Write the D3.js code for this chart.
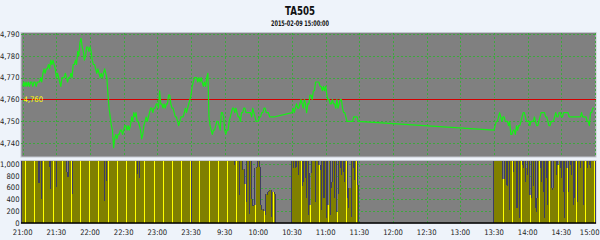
<!DOCTYPE html>
<html>
<head>
<meta charset="utf-8">
<script src="https://cdn.jsdelivr.net/npm/d3@7/dist/d3.min.js"></script>
<style>
  html, body { margin: 0; padding: 0; background: #eef3fa; }
  svg { display: block; }
  text { font-family: 'Liberation Sans Narrow', 'Arial Narrow', 'DejaVu Sans Condensed', sans-serif; }
</style>
</head>
<body>
<div id="chart"></div>
<script>
// TA505 intraday minute chart: price (top) and volume (bottom)

const TITLE = 'TA505';
const SUBTITLE = '2015-02-09 15:00:00';
const REF_PRICE = 4760;

// one slot = one minute; night 21:00-23:30, then day 9:00-15:00 with breaks kept
const tickLabels = ['21:00','21:30','22:00','22:30','23:00','23:30','9:30','10:00','10:30',
  '11:00','11:30','12:00','12:30','13:00','13:30','14:00','14:30','15:00'];
const tickSlots = [0,30,60,90,120,150,180,210,240,270,300,330,360,390,420,450,480,510];
const priceTicks = [4740, 4750, 4760, 4770, 4780, 4790];
const volTicks = [0, 200, 400, 600, 800, 1000];

// first minute slot of each session: 21:00, 9:00, 10:30, 13:30
const sessionStart = [0, 150, 240, 420];

const priceNight = [
  4766,4768,4766,4768,4766,4768,4766,4768,4768,4766,
  4768,4768,4766,4768,4768,4768,4770,4768,4772,4774,
  4772,4774,4774,4776,4774,4778,4776,4778,4776,4774,
  4770,4772,4770,4768,4766,4770,4770,4770,4772,4770,
  4768,4770,4770,4772,4770,4776,4776,4778,4776,4782,
  4780,4786,4788,4784,4782,4778,4780,4784,4784,4782,
  4784,4782,4778,4776,4776,4774,4772,4774,4772,4770,
  4772,4770,4772,4774,4772,4770,4762,4756,4752,4748,
  4746,4738,4742,4744,4742,4744,4744,4746,4746,4744,
  4746,4748,4748,4746,4748,4746,4748,4752,4750,4754,
  4752,4754,4750,4750,4748,4746,4742,4744,4748,4750,
  4752,4750,4752,4754,4756,4756,4754,4756,4756,4758,
  4758,4756,4764,4758,4758,4756,4758,4756,4758,4758,
  4762,4762,4758,4756,4756,4754,4752,4752,4750,4748,
  4750,4752,4752,4752,4754,4756,4754,4756,4758,4760
];
const priceDay1 = [
  4762,4766,4768,4770,4770,4770,4768,4770,4768,4770,
  4768,4766,4768,4766,4770,4772,4752,4748,4746,4744,
  4746,4746,4748,4750,4750,4748,4746,4754,4754,4752,
  4746,4744,4746,4746,4750,4752,4754,4756,4756,4754,
  4756,4754,4752,4752,4750,4754,4754,4756,4756,4754,
  4754,4754,4754,4754,4752,4756,4754,4752,4750,4750,
  4750,4752,4752,4754,4754,4756,4756,4754,4754,4754,
  4752,4752,4752,4752,4752
];
const priceDay2 = [
  4754,4756,4754,4756,4758,4756,4756,4758,4760,4758,
  4756,4760,4758,4754,4758,4758,4762,4762,4760,4764,
  4764,4768,4768,4768,4768,4766,4766,4764,4766,4764,
  4766,4762,4760,4760,4758,4758,4760,4758,4758,4756,
  4760,4756,4758,4760,4760,4756,4754,4754,4752,4750,
  4750,4750,4750,4750,4750,4752,4752,4752,4752,4750
];
const priceDay3 = [
  4746,4748,4750,4750,4752,4754,4752,4750,4752,4752,
  4750,4750,4750,4748,4750,4744,4744,4746,4746,4744,
  4748,4746,4748,4748,4750,4752,4754,4754,4752,4750,
  4750,4750,4748,4750,4750,4750,4752,4750,4748,4748,
  4750,4752,4754,4754,4754,4754,4752,4752,4750,4748,
  4748,4750,4750,4750,4752,4754,4752,4752,4754,4754,
  4752,4752,4754,4754,4754,4754,4754,4752,4752,4752,
  4752,4752,4752,4752,4752,4752,4752,4752,4754,4752,
  4752,4752,4752,4750,4750,4748,4754,4754,4756,4756
];

const volNight = [
  4820,2650,1980,2210,1760,1540,1890,1320,1450,1610,
  1280,1390,1170,1240,680,680,1310,400,1150,1420,
  1260,1180,1330,1190,950,580,1210,1360,1120,1240,
  610,1180,1290,1410,1150,1230,1320,1100,1190,860,
  780,780,1250,1170,500,1380,1560,1720,1940,2380,
  2610,3120,2870,1980,1760,1640,1820,1590,1470,1350,
  1420,1290,1510,1380,1260,1190,1310,1240,1170,1220,
  1350,1160,1280,370,1460,720,2240,3480,2960,2410,
  2850,3210,2170,1860,1640,1420,1530,1380,1290,1360,
  1240,1410,1180,1270,1330,1150,1210,1480,1390,1320,
  1260,1170,830,1240,760,1310,1580,1420,1290,1350,
  1240,1160,1280,1370,1190,1230,1140,1260,1310,1180,
  1220,1290,1540,1360,1240,1170,1280,1210,1150,1230,
  1380,1260,1190,1240,1160,1280,1310,1220,1270,1350,
  1240,1290,1180,1330,1260,1410,1380,1520,1640,1890
];
const volDay1 = [
  3860,2740,2380,2150,1960,1820,1740,1590,1480,1520,
  1390,1460,1310,1580,1720,2630,3150,2480,2210,1870,
  1640,1520,1430,1390,1280,1350,1460,1620,1380,1290,
  1740,1860,1520,1410,1370,1460,1530,1320,1240,980,
  1210,1160,1190,480,1130,1170,900,920,670,360,
  1120,1150,150,1180,400,280,290,300,940,960,
  1130,950,300,220,230,200,130,500,470,520,
  540,560,90,520,500
];
const volDay2 = [
  1480,930,1220,930,960,1170,820,1140,1190,620,
  700,1160,760,420,1130,130,300,850,1220,1180,
  1150,360,1240,1110,990,900,220,1120,420,420,
  1160,75,300,1130,130,590,700,1110,420,1140,
  190,500,1150,930,820,1120,870,700,1140,420,
  250,600,600,100,1160,930,730,1120,650,20
];
const volDay3 = [
  4250,2860,2140,1780,1560,1420,1390,1280,750,740,
  1180,640,620,1150,220,1210,1170,870,1240,1130,
  250,250,1160,80,1190,990,930,1140,700,930,
  820,1170,470,420,1130,620,1180,250,190,420,
  1150,930,700,1160,530,75,1190,760,300,1140,
  1130,590,560,590,1180,1160,820,990,1150,930,
  760,1170,530,75,1140,930,530,1160,990,820,
  1180,300,420,1150,360,1170,1190,930,1160,1140,
  300,1180,1170,930,1150,990,930,1190,1560,2340
];

const prices = [priceNight, priceDay1, priceDay2, priceDay3];
const volumes = [volNight, volDay1, volDay2, volDay3];

// — layout ————————————————————————————————————————————————
const W = 600, H = 240;
const PX0 = 21, PX1 = 596;
const upper = { y0: 32.5, y1: 157 };
const lower = { y0: 160.5, y1: 223.5 };

const GRID = '#3da83d';
const OLIVE = '#808000';
const BAR_EDGE = '#3e3e62';

const svg = d3.select('#chart').append('svg')
  .attr('width', W).attr('height', H);

const x = d3.scaleLinear().domain([0, 510]).range([22.7, 595]);
const y = d3.scaleLinear().domain([4740, 4790]).range([143.2, 33.9]);
const yv = d3.scaleLinear().domain([0, 1000]).range([222.7, 164.3]);
const vTop = yv.invert(lower.y0);

// titles
svg.append('text').attr('x', 300).attr('y', 14.5)
  .attr('text-anchor', 'middle').attr('font-size', 13).attr('font-weight', 'bold')
  .attr('textLength', 30).attr('lengthAdjust', 'spacingAndGlyphs')
  .attr('fill', '#111').text(TITLE);
svg.append('text').attr('x', 300).attr('y', 26)
  .attr('text-anchor', 'middle').attr('font-size', 7.6).attr('font-weight', 'bold')
  .attr('textLength', 58).attr('lengthAdjust', 'spacingAndGlyphs')
  .attr('fill', '#111').text(SUBTITLE);

const defs = svg.append('defs');
defs.append('clipPath').attr('id', 'clipUp').append('rect')
  .attr('x', PX0).attr('y', upper.y0).attr('width', PX1 - PX0).attr('height', upper.y1 - upper.y0);
defs.append('clipPath').attr('id', 'clipLo').append('rect')
  .attr('x', PX0).attr('y', lower.y0).attr('width', PX1 - PX0).attr('height', lower.y1 - lower.y0);

// — upper panel: price ——————————————————————————————————————
svg.append('rect')
  .attr('x', PX0).attr('y', upper.y0).attr('width', PX1 - PX0).attr('height', upper.y1 - upper.y0)
  .attr('fill', '#808080').attr('stroke', '#c4c8d0').attr('stroke-width', 1);

const gUp = svg.append('g').attr('clip-path', 'url(#clipUp)');

gUp.selectAll('.hgrid').data(priceTicks.filter(d => d !== REF_PRICE)).join('line')
  .attr('x1', PX0).attr('x2', PX1)
  .attr('y1', d => Math.round(y(d)) + 0.5).attr('y2', d => Math.round(y(d)) + 0.5)
  .attr('stroke', GRID).attr('stroke-dasharray', '2,2').attr('shape-rendering', 'crispEdges');
gUp.selectAll('.vgrid').data(tickSlots).join('line')
  .attr('x1', d => Math.round(x(d)) + 0.5).attr('x2', d => Math.round(x(d)) + 0.5)
  .attr('y1', upper.y0).attr('y2', upper.y1)
  .attr('stroke', GRID).attr('stroke-dasharray', '2,2').attr('shape-rendering', 'crispEdges');

gUp.append('line')
  .attr('x1', PX0).attr('x2', PX1)
  .attr('y1', Math.round(y(REF_PRICE)) + 0.5).attr('y2', Math.round(y(REF_PRICE)) + 0.5)
  .attr('stroke', '#d40000').attr('stroke-width', 1).attr('shape-rendering', 'crispEdges');

const pricePts = sessionStart.flatMap((s, k) => prices[k].map((p, j) => [s + j, p]));
gUp.append('path')
  .datum(pricePts)
  .attr('fill', 'none').attr('stroke', '#16ee16').attr('stroke-width', 1.2)
  .attr('stroke-linejoin', 'round')
  .attr('d', d3.line().x(d => x(d[0])).y(d => y(d[1])));

svg.append('text').attr('x', 23.5).attr('y', y(REF_PRICE) + 2.8)
  .attr('font-size', 7.6).attr('fill', '#ffff00')
  .text(d3.format(',')(REF_PRICE));

svg.selectAll('.ylab').data(priceTicks).join('text')
  .attr('x', 19.5).attr('y', d => y(d) + 2.8)
  .attr('text-anchor', 'end').attr('font-size', 7.6).attr('fill', '#222')
  .text(d => d3.format(',')(d));

// — lower panel: volume ——————————————————————————————————————
svg.append('rect')
  .attr('x', PX0).attr('y', lower.y0).attr('width', PX1 - PX0).attr('height', lower.y1 - lower.y0)
  .attr('fill', '#808080').attr('stroke', '#c4c8d0').attr('stroke-width', 1);

const gLo = svg.append('g').attr('clip-path', 'url(#clipLo)').attr('shape-rendering', 'crispEdges');

gLo.selectAll('.hgrid').data(volTicks.slice(1)).join('line')
  .attr('x1', PX0).attr('x2', PX1)
  .attr('y1', d => Math.round(yv(d)) + 0.5).attr('y2', d => Math.round(yv(d)) + 0.5)
  .attr('stroke', GRID).attr('stroke-dasharray', '2,2');
gLo.selectAll('.vgrid').data(tickSlots).join('line')
  .attr('x1', d => Math.round(x(d)) + 0.5).attr('x2', d => Math.round(x(d)) + 0.5)
  .attr('y1', lower.y0).attr('y2', lower.y1)
  .attr('stroke', GRID).attr('stroke-dasharray', '2,2');

const bars = sessionStart.flatMap((s, k) => volumes[k].map((v, j, arr) => ({
  slot: s + j,
  v: Math.min(v, vTop),
  prev: j > 0 ? Math.min(arr[j - 1], vTop) : 0,
  next: j < arr.length - 1 ? Math.min(arr[j + 1], vTop) : 0
})));
const col = d => Math.floor(x(d.slot));

// highlight column to the right of each bar (shows where pixel columns skip)
gLo.selectAll('.hi').data(bars).join('rect')
  .attr('x', d => col(d) + 1).attr('width', 1)
  .attr('y', d => yv(d.v)).attr('height', d => yv(0) - yv(d.v))
  .attr('fill', '#ffff00');
gLo.selectAll('.bar').data(bars).join('rect')
  .attr('x', col).attr('width', 1)
  .attr('y', d => yv(d.v)).attr('height', d => yv(0) - yv(d.v))
  .attr('fill', OLIVE);

// bar outline where a bar is lower than its neighbours
gLo.selectAll('.edge').data(bars.filter(d => Math.max(d.prev, d.next) > d.v)).join('rect')
  .attr('x', col).attr('width', 1)
  .attr('y', d => yv(Math.max(d.prev, d.next)))
  .attr('height', d => yv(d.v) - yv(Math.max(d.prev, d.next)))
  .attr('fill', BAR_EDGE);

// session edges
const edges = [];
sessionStart.forEach((s, k) => {
  const vs = volumes[k];
  const prevEnd = k > 0 ? sessionStart[k - 1] + volumes[k - 1].length : -1;
  if (prevEnd !== s) edges.push({ c: Math.floor(x(s)) - 1, v: Math.min(vs[0], vTop) });
  edges.push({ c: Math.floor(x(s + vs.length)), v: Math.min(vs[vs.length - 1], vTop) });
});
gLo.selectAll('.sedge').data(edges).join('rect')
  .attr('x', d => d.c).attr('width', 1)
  .attr('y', d => yv(d.v)).attr('height', d => yv(0) - yv(d.v))
  .attr('fill', BAR_EDGE);

svg.append('line')
  .attr('x1', PX0).attr('x2', PX1)
  .attr('y1', yv(0) + 0.3).attr('y2', yv(0) + 0.3)
  .attr('stroke', '#000').attr('stroke-width', 1.5);

svg.selectAll('.vlab').data(volTicks).join('text')
  .attr('x', 19.5).attr('y', d => yv(d) + 2.8)
  .attr('text-anchor', 'end').attr('font-size', 7.6).attr('fill', '#222')
  .text(d => d3.format(',')(d));

// — x axis labels ————————————————————————————————————————————
const last = tickSlots.length - 1;
svg.selectAll('.xlab').data(tickSlots).join('text')
  .attr('x', (d, i) => i === last ? 599.5 : x(d)).attr('y', 235)
  .attr('text-anchor', (d, i) => i === last ? 'end' : 'middle')
  .attr('font-size', 7.6).attr('fill', '#222')
  .text((d, i) => tickLabels[i]);
</script>
</body>
</html>
